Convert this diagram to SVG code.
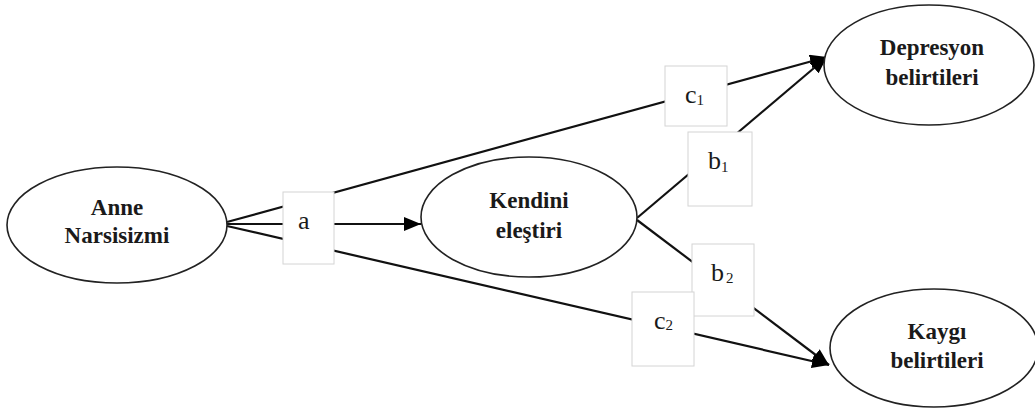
<svg xmlns="http://www.w3.org/2000/svg" width="1035" height="410" viewBox="0 0 1035 410">
<style>
.node{fill:#fff;stroke:#222;stroke-width:1.6}
.nt{font-family:'Liberation Serif','Times New Roman','DejaVu Serif',serif;font-weight:bold;font-size:23px;fill:#1a1a1a;text-anchor:middle}
.edge{stroke:#111;stroke-width:2.2;fill:none}
.lb{fill:#fff;stroke:#d4d4d4;stroke-width:1}
.lt{font-family:'Liberation Serif','Times New Roman','DejaVu Serif',serif;font-size:26px;fill:#1a1a1a}
.sub{font-size:15px}
</style>
<defs>
<marker id="ah" markerUnits="userSpaceOnUse" markerWidth="18" markerHeight="14" refX="17" refY="7" orient="auto">
<path d="M0,0 L17,7 L0,14 z" fill="#000"/>
</marker>
</defs>
<rect width="1035" height="410" fill="#fff"/>
<g id="connectors">
<line class="edge" x1="227" y1="222" x2="827" y2="57" marker-end="url(#ah)"/>
<line class="edge" x1="227" y1="224" x2="421" y2="224" marker-end="url(#ah)"/>
<line class="edge" x1="227" y1="226" x2="829" y2="365" marker-end="url(#ah)"/>
<line class="edge" x1="637" y1="218" x2="827" y2="57" marker-end="url(#ah)"/>
<line class="edge" x1="637" y1="220" x2="829" y2="365" marker-end="url(#ah)"/>
</g>
<g id="edge-labels">
<g id="label-a"><rect class="lb" x="283" y="192" width="51" height="72"/><text class="lt" x="298" y="229">a</text></g>
<g id="label-c1"><rect class="lb" x="665" y="66" width="62" height="60"/><text class="lt" x="685" y="103">c<tspan class="sub" dy="2">1</tspan></text></g>
<g id="label-b1"><rect class="lb" x="688" y="132" width="64" height="74"/><text class="lt" x="708" y="169">b<tspan class="sub" dy="3">1</tspan></text></g>
<g id="label-b2"><rect class="lb" x="692" y="244" width="62" height="72"/><text class="lt" x="711" y="281">b<tspan class="sub" dy="2" dx="2">2</tspan></text></g>
<g id="label-c2"><rect class="lb" x="632" y="292" width="62" height="74"/><text class="lt" x="654" y="329">c<tspan class="sub" dy="1">2</tspan></text></g>
</g>
<g id="node-anne">
<ellipse class="node" cx="117" cy="225" rx="110" ry="58"/>
<text class="nt" x="117" y="215">Anne</text>
<text class="nt" x="117" y="243">Narsisizmi</text>
</g>
<g id="node-kendini">
<ellipse class="node" cx="529" cy="217" rx="108" ry="60"/>
<text class="nt" x="529" y="208">Kendini</text>
<text class="nt" x="529" y="238">eleştiri</text>
</g>
<g id="node-depresyon">
<ellipse class="node" cx="929" cy="65" rx="105" ry="60"/>
<text class="nt" x="932" y="55">Depresyon</text>
<text class="nt" x="932" y="85">belirtileri</text>
</g>
<g id="node-kaygi">
<ellipse class="node" cx="934" cy="348" rx="104" ry="59"/>
<text class="nt" x="937" y="339">Kaygı</text>
<text class="nt" x="937" y="368">belirtileri</text>
</g>
</svg>
